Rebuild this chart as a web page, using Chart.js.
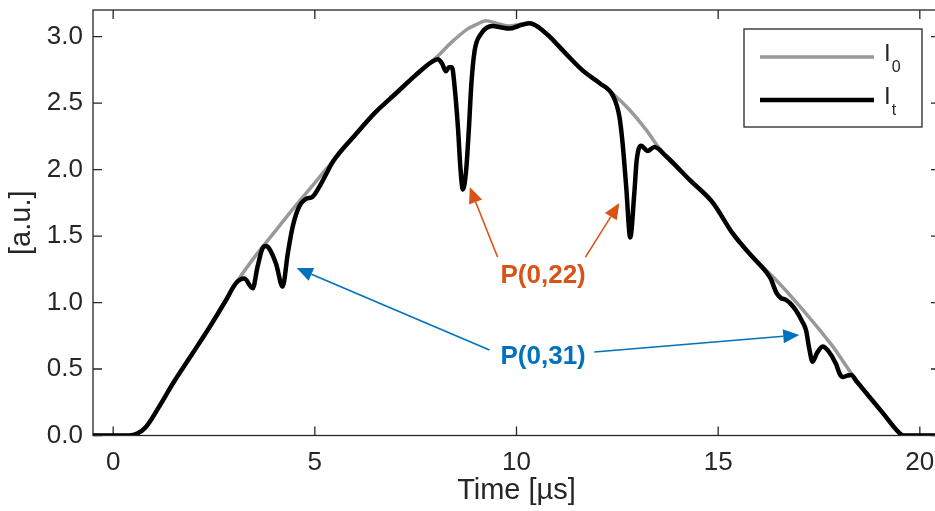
<!DOCTYPE html>
<html>
<head>
<meta charset="utf-8">
<script src="https://cdn.jsdelivr.net/npm/chart.js@4.4.0/dist/chart.umd.min.js"></script>
<style>
html, body { margin: 0; padding: 0; background: #fff; overflow: hidden; }
canvas { display: block; }
</style>
</head>
<body>
<canvas id="myChart" width="941" height="511"></canvas>
<script>
// time axis in microseconds, intensity in arbitrary units
const i0Time = [-0.5, 0.4, 0.6, 0.8, 1.14, 1.5, 1.97, 2.4, 2.8, 3.1, 3.5, 4.0, 4.5, 5.0, 5.27, 5.45,
    6.0, 6.5, 7.0, 7.5, 8.0, 8.4, 8.8, 9.0, 9.25, 9.5, 9.8, 10.05, 10.32, 10.55, 10.82, 11.23, 11.66,
    12.06, 12.39, 12.8, 13.21, 13.54, 13.71, 14.3, 14.87, 15.36, 15.86, 16.37, 17.03, 17.84, 18.33,
    18.67, 19.08, 19.49, 19.6, 20.5];
const i0Values = [0, 0, 0.015, 0.06, 0.217, 0.40, 0.618, 0.82, 1.019, 1.17, 1.34, 1.53, 1.72, 1.90, 2.0, 2.06,
    2.26, 2.43, 2.57, 2.71, 2.84, 2.96, 3.06, 3.09, 3.12, 3.10, 3.08, 3.09, 3.10, 3.07, 3.0, 2.87, 2.74,
    2.65, 2.57, 2.45, 2.30, 2.16, 2.10, 1.92, 1.75, 1.52, 1.34, 1.19, 0.97, 0.67, 0.455,
    0.32, 0.17, 0.02, 0, 0];

const itTime = [-0.5, 0.4, 0.6, 0.8, 1.14, 1.5, 1.97, 2.4, 2.8, 3.04, 3.25, 3.46, 3.58, 3.70, 3.79, 3.87,
    4.04, 4.20, 4.33, 4.45, 4.61, 4.78, 4.94, 5.11, 5.27, 5.45, 6.0, 6.5, 7.0, 7.5, 7.9, 8.05, 8.15,
    8.25, 8.33, 8.4, 8.46, 8.55, 8.61, 8.67, 8.75, 8.82, 8.88, 8.96, 9.12, 9.41, 9.6, 9.83, 10.05,
    10.32, 10.55, 10.82, 11.23, 11.66, 12.06, 12.40, 12.55, 12.63, 12.72, 12.82, 12.92, 12.98, 13.09,
    13.25, 13.42, 13.71, 14.3, 14.87, 15.36, 15.86, 16.19, 16.3, 16.45, 16.55, 16.68, 16.8, 16.93,
    17.08, 17.18, 17.26, 17.34, 17.45, 17.59, 17.72, 17.92, 18.02, 18.09, 18.2, 18.29, 18.45, 18.67,
    19.08, 19.49, 19.6, 20.5];
const itValues = [0, 0, 0.015, 0.06, 0.217, 0.40, 0.618, 0.82, 1.019, 1.144, 1.18, 1.107, 1.27, 1.405, 1.425, 1.405,
    1.29, 1.12, 1.37, 1.57, 1.72, 1.78, 1.795, 1.87, 1.96, 2.06, 2.26, 2.43, 2.57, 2.71, 2.81, 2.83, 2.80,
    2.74, 2.77, 2.77, 2.64, 2.31, 2.01, 1.85, 1.99, 2.31, 2.64, 2.89, 3.02, 3.08, 3.07, 3.06, 3.08,
    3.10, 3.07, 3.0, 2.87, 2.74, 2.65, 2.55, 2.40, 2.20, 1.87, 1.49, 1.82, 2.07, 2.18,
    2.14, 2.17, 2.10, 1.92, 1.75, 1.52, 1.34, 1.23, 1.18, 1.07, 1.035, 1.02, 0.99, 0.94,
    0.86, 0.79, 0.65, 0.555, 0.62, 0.67, 0.64, 0.54, 0.46, 0.44, 0.45, 0.455, 0.40, 0.32,
    0.17, 0.02, 0, 0];

const seriesNames = ['I|0', 'I|t'];   // main text | subscript
const seriesColors = ['#999999', '#000000'];

const xTicks = [0, 5, 10, 15, 20];
const yTicks = [0, 0.5, 1.0, 1.5, 2.0, 2.5, 3.0];

// annotation text and arrows, in data coordinates
const noteLabels = ['P(0,22)', 'P(0,31)'];
const noteColors = ['#D95319', '#0072BD'];
const notePos = [[10.66, 1.20], [10.66, 0.59]];
const noteArrows = [
    [[9.53, 1.342, 8.84, 1.868], [11.71, 1.342, 12.55, 1.748]],
    [[9.33, 0.643, 4.55, 1.259], [11.93, 0.628, 17.01, 0.756]]
];

const axisColor = '#262626';
const fontFamily = '"Liberation Sans", Arial, Helvetica, sans-serif';

function pairs(xs, ys) {
    return xs.map((x, i) => ({x: x, y: ys[i]}));
}

// MATLAB-like box with inward ticks
const boxPlugin = {
    id: 'boxPlugin',
    beforeDatasetsDraw(chart) {
        const {ctx, chartArea: a, scales} = chart;
        const tl = 9;
        ctx.save();
        ctx.strokeStyle = axisColor;
        ctx.lineWidth = 1.3;
        ctx.strokeRect(a.left, a.top, a.right - a.left, a.bottom - a.top);
        ctx.beginPath();
        scales.x.ticks.forEach(t => {
            const px = scales.x.getPixelForValue(t.value);
            ctx.moveTo(px, a.bottom); ctx.lineTo(px, a.bottom - tl);
            ctx.moveTo(px, a.top); ctx.lineTo(px, a.top + tl);
        });
        scales.y.ticks.forEach(t => {
            const py = scales.y.getPixelForValue(t.value);
            ctx.moveTo(a.left, py); ctx.lineTo(a.left + tl, py);
            ctx.moveTo(a.right, py); ctx.lineTo(a.right - tl, py);
        });
        ctx.stroke();
        ctx.restore();
    }
};

const legendPlugin = {
    id: 'legendPlugin',
    afterDraw(chart) {
        const {ctx, chartArea: a} = chart;
        const left = a.right - 196, top = a.top + 19, w = 178, h = 98;
        ctx.save();
        ctx.fillStyle = '#fff';
        ctx.fillRect(left, top, w, h);
        ctx.strokeStyle = axisColor;
        ctx.lineWidth = 1.3;
        ctx.strokeRect(left, top, w, h);
        chart.data.datasets.forEach((ds, i) => {
            const y = top + 28 + i * 43;
            ctx.strokeStyle = ds.borderColor;
            ctx.lineWidth = ds.borderWidth;
            ctx.beginPath();
            ctx.moveTo(left + 16, y);
            ctx.lineTo(left + 130, y);
            ctx.stroke();
            const parts = seriesNames[i].split('|');
            ctx.fillStyle = axisColor;
            ctx.textBaseline = 'alphabetic';
            ctx.font = '24px ' + fontFamily;
            ctx.fillText(parts[0], left + 140, y + 4);
            const wMain = ctx.measureText(parts[0]).width;
            ctx.font = '16px ' + fontFamily;
            ctx.fillText(parts[1], left + 141 + wMain, y + 15);
        });
        ctx.restore();
    }
};

const notePlugin = {
    id: 'notePlugin',
    afterDatasetsDraw(chart) {
        const {ctx, scales} = chart;
        const sx = v => scales.x.getPixelForValue(v);
        const sy = v => scales.y.getPixelForValue(v);
        ctx.save();
        noteLabels.forEach((label, i) => {
            ctx.strokeStyle = noteColors[i];
            ctx.fillStyle = noteColors[i];
            ctx.lineWidth = 1.6;
            noteArrows[i].forEach(ar => {
                const x1 = sx(ar[0]), y1 = sy(ar[1]), x2 = sx(ar[2]), y2 = sy(ar[3]);
                const ang = Math.atan2(y2 - y1, x2 - x1);
                const hl = 16, hw = 7;
                const bx = x2 - hl * Math.cos(ang), by = y2 - hl * Math.sin(ang);
                ctx.beginPath();
                ctx.moveTo(x1, y1);
                ctx.lineTo(bx, by);
                ctx.stroke();
                ctx.beginPath();
                ctx.moveTo(x2, y2);
                ctx.lineTo(bx + hw * Math.sin(ang), by - hw * Math.cos(ang));
                ctx.lineTo(bx - hw * Math.sin(ang), by + hw * Math.cos(ang));
                ctx.closePath();
                ctx.fill();
            });
            ctx.font = 'bold 26px ' + fontFamily;
            ctx.textAlign = 'center';
            ctx.textBaseline = 'middle';
            ctx.fillText(label, sx(notePos[i][0]), sy(notePos[i][1]));
        });
        ctx.restore();
    }
};

const ctx = document.getElementById('myChart').getContext('2d');

const pulseChart = new Chart(ctx, {
    type: 'line',
    data: {
        datasets: [{
            label: 'I0',
            data: pairs(i0Time, i0Values),
            borderColor: seriesColors[0],
            borderWidth: 3.5,
            pointRadius: 0,
            fill: false,
            cubicInterpolationMode: 'monotone',
            order: 2
        }, {
            label: 'It',
            data: pairs(itTime, itValues),
            borderColor: seriesColors[1],
            borderWidth: 4.5,
            pointRadius: 0,
            fill: false,
            cubicInterpolationMode: 'monotone',
            order: 1
        }]
    },
    options: {
        responsive: false,
        animation: false,
        devicePixelRatio: 1,
        layout: {padding: {top: 10, right: 1, left: 0, bottom: 0}},
        plugins: {
            legend: {display: false},
            tooltip: {enabled: false}
        },
        scales: {
            x: {
                type: 'linear',
                min: -0.5,
                max: 20.5,
                grid: {display: false, drawTicks: false},
                border: {display: false},
                afterBuildTicks: s => { s.ticks = xTicks.map(v => ({value: v})); },
                afterFit: s => { s.height = 75.5; s.paddingLeft = 0; s.paddingRight = 0; },
                ticks: {
                    padding: 12,
                    color: axisColor,
                    font: {family: fontFamily, size: 26},
                    maxRotation: 0,
                    callback: v => String(v)
                },
                title: {
                    display: true,
                    text: 'Time [µs]',
                    color: axisColor,
                    font: {family: fontFamily, size: 29},
                    padding: {top: 0, bottom: 3}
                }
            },
            y: {
                min: 0,
                max: 3.2,
                grid: {display: false, drawTicks: false},
                border: {display: false},
                afterBuildTicks: s => { s.ticks = yTicks.map(v => ({value: v})); },
                afterFit: s => { s.width = 93; s.paddingTop = 0; s.paddingBottom = 0; },
                ticks: {
                    padding: 10,
                    color: axisColor,
                    font: {family: fontFamily, size: 26},
                    callback: v => v.toFixed(1)
                },
                title: {
                    display: true,
                    text: '[a.u.]',
                    color: axisColor,
                    font: {family: fontFamily, size: 29},
                    padding: {top: 5, bottom: 0}
                }
            }
        }
    },
    plugins: [boxPlugin, notePlugin, legendPlugin]
});
</script>
</body>
</html>
